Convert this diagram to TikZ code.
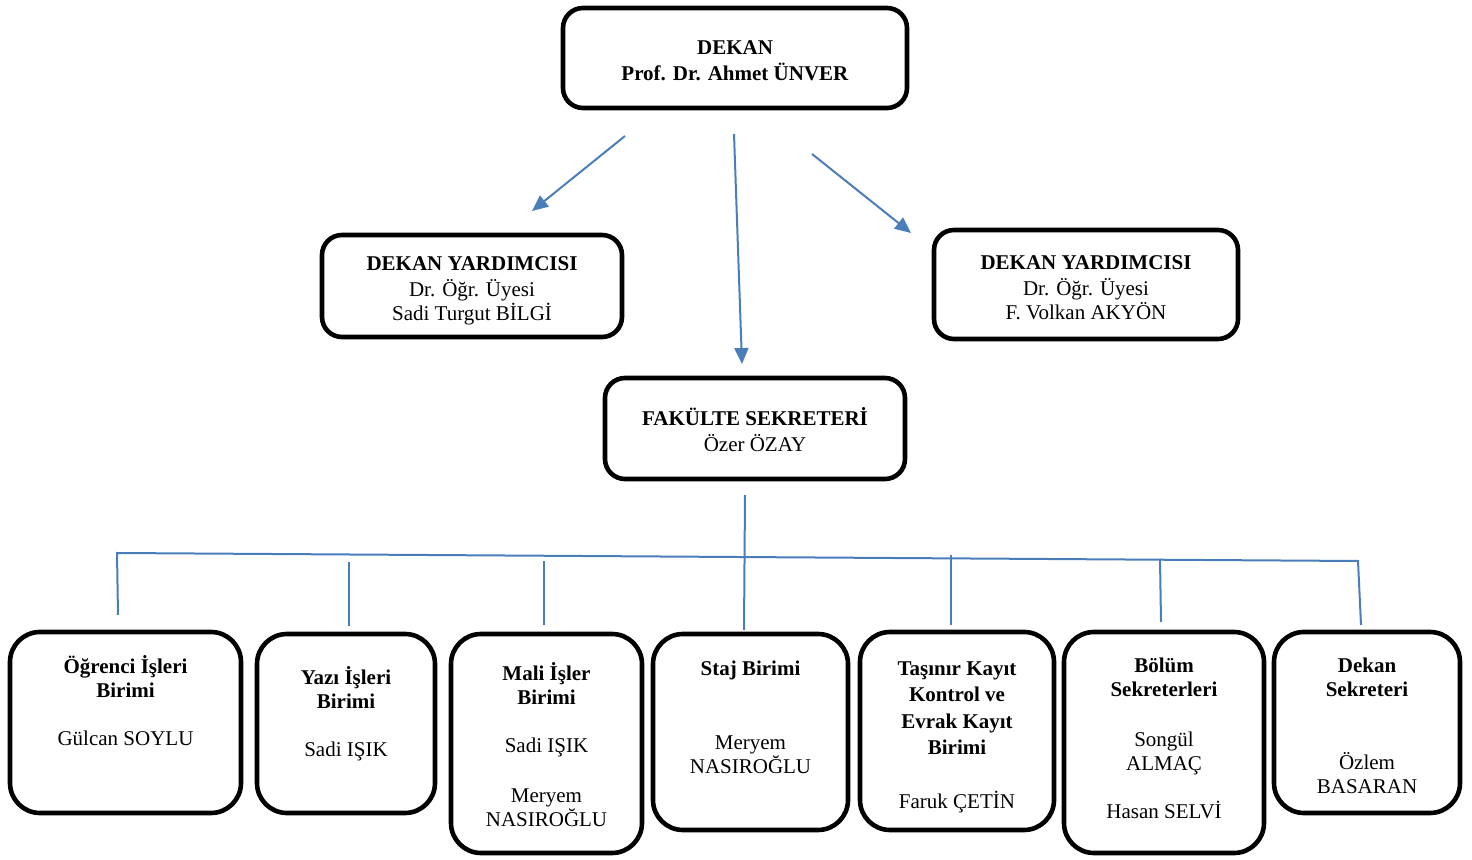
\documentclass[tikz,border=0pt]{standalone}
\usepackage{fontspec}
\setmainfont{Liberation Serif}
\usetikzlibrary{arrows.meta}
\definecolor{cblue}{HTML}{4A7EBB}
\begin{document}
\begin{tikzpicture}[x=0.5pt,y=-0.5pt,
  topbox/.style={draw=black,line width=2.3pt,rounded corners=10pt,inner sep=0pt},
  botbox/.style={draw=black,line width=2.3pt,rounded corners=15pt,inner sep=0pt},
  txt/.style={anchor=north,align=center,inner sep=0pt,font=\fontsize{10.5}{12}\selectfont},
  conn/.style={draw=cblue,line width=1pt},
  arr/.style={conn,-{Triangle[length=8pt,width=7pt]}}]
\useasboundingbox (0,0) rectangle (1472,860);
% boxes
\node[topbox,minimum width=172pt,minimum height=50pt] (dekan) at (735,58) {};
\node[topbox,minimum width=150pt,minimum height=51pt] (dyl) at (472,286) {};
\node[topbox,minimum width=152pt,minimum height=54.5pt] (dyr) at (1086,284.5) {};
\node[topbox,minimum width=150pt,minimum height=50.5pt] (fs) at (755,428.5) {};
\node[botbox,minimum width=115.5pt,minimum height=90.5pt] (b1) at (125.5,722.5) {};
\node[botbox,minimum width=89pt,minimum height=89.5pt] (b2) at (346,723.5) {};
\node[botbox,minimum width=95.5pt,minimum height=109.5pt] (b3) at (546.5,743.5) {};
\node[botbox,minimum width=97.5pt,minimum height=98pt] (b4) at (750.5,732) {};
\node[botbox,minimum width=97pt,minimum height=99pt] (b5) at (957,731) {};
\node[botbox,minimum width=100pt,minimum height=110.5pt] (b6) at (1164,742.5) {};
\node[botbox,minimum width=93pt,minimum height=90.5pt] (b7) at (1367,722.5) {};
% texts
\node[txt] (tdekan) at (735,37) {\strut\textbf{DEKAN}\\\textbf{Prof. Dr. Ahmet ÜNVER}};
\node[txt] (tdyl) at (472,253) {\strut\textbf{DEKAN YARDIMCISI}\\Dr. Öğr. Üyesi\\Sadi Turgut BİLGİ};
\node[txt] (tdyr) at (1086,252) {\strut\textbf{DEKAN YARDIMCISI}\\Dr. Öğr. Üyesi\\F. Volkan AKYÖN};
\node[txt] (tfs) at (755,407) {\strut\textbf{FAKÜLTE SEKRETERİ}\\Özer ÖZAY};
\node[txt] (t1) at (125.5,655) {\strut\textbf{Öğrenci İşleri}\\\textbf{Birimi}\\[12pt]Gülcan SOYLU};
\node[txt] (t2) at (346,666) {\strut\textbf{Yazı İşleri}\\\textbf{Birimi}\\[12pt]Sadi IŞIK};
\node[txt] (t3) at (546.5,662) {\strut\textbf{Mali İşler}\\\textbf{Birimi}\\[12pt]Sadi IŞIK\\[13pt]Meryem\\NASIROĞLU};
\node[txt] (t4) at (750.5,658) {\strut\textbf{Staj Birimi}\\[25pt]Meryem\\NASIROĞLU};
\node[txt] (t5) at (957,658) {\strut\textbf{Taşınır Kayıt}\\[1pt]\textbf{Kontrol ve}\\[1.5pt]\textbf{Evrak Kayıt}\\[1pt]\textbf{Birimi}\\[15pt]Faruk ÇETİN};
\node[txt] (t6) at (1164,655) {\strut\textbf{Bölüm}\\\textbf{Sekreterleri}\\[13pt]Songül\\ALMAÇ\\[12pt]Hasan SELVİ};
\node[txt] (t7) at (1367,655) {\strut\textbf{Dekan}\\\textbf{Sekreteri}\\[24.5pt]Özlem\\BASARAN};
% arrow end points
\coordinate (a1s) at (625,136); \coordinate (a1e) at (532,211);
\coordinate (a2s) at (734,134); \coordinate (a2e) at (742,364);
\coordinate (a3s) at (812,154); \coordinate (a3e) at (911,233);
\draw[arr] (a1s) -- (a1e);
\draw[arr] (a2s) -- (a2e);
\draw[arr] (a3s) -- (a3e);
% tree lines
\coordinate (fsd) at (745,495);
\coordinate (h1) at (117,553);
\coordinate (h7) at (1358,561);
\coordinate (e1) at (118,615);
\coordinate (s2) at (349,562); \coordinate (e2) at (349,626);
\coordinate (s3) at (544,561); \coordinate (e3) at (544,625);
\coordinate (e4) at (744,630);
\coordinate (s5) at (951,555); \coordinate (e5) at (951,625);
\coordinate (s6) at (1160,559); \coordinate (e6) at (1161,622);
\coordinate (e7) at (1361,625);
\draw[conn] (e1) -- (h1) -- (h7) -- (e7);
\draw[conn] (fsd) -- (e4);
\draw[conn] (s2) -- (e2);
\draw[conn] (s3) -- (e3);
\draw[conn] (s5) -- (e5);
\draw[conn] (s6) -- (e6);
\end{tikzpicture}
\end{document}
